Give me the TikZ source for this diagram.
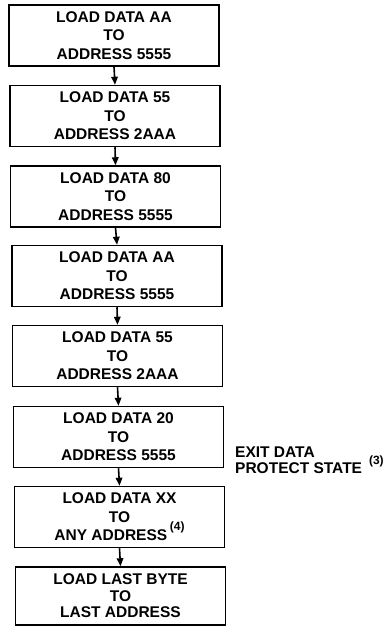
\documentclass[tikz,border=0pt]{standalone}
\usepackage{fontspec}
\setmainfont{Liberation Sans}
\usetikzlibrary{arrows.meta}
\begin{document}
\begin{tikzpicture}[x=1pt,y=-1pt,
  stepbox/.style={draw, line width=1.5pt, minimum width=210pt, minimum height=61pt,
    inner sep=0pt, align=center, font=\fontsize{15.5}{18.6}\selectfont\bfseries},
  flow/.style={line width=1.6pt, -{Triangle[length=8pt,width=6.5pt]}},
  note/.style={align=left, anchor=north west, inner sep=0pt,
    font=\fontsize{15.5}{15.7}\selectfont\bfseries}]
\useasboundingbox (0,0) rectangle (391,626);
\node[stepbox] (b1) at (114,35.5)  {LOAD DATA AA\\TO\\ADDRESS 5555};
\node[stepbox] (b2) at (115,116)   {LOAD DATA 55\\TO\\ADDRESS 2AAA};
\node[stepbox] (b3) at (115.5,196.5) {LOAD DATA 80\\TO\\ADDRESS 5555};
\node[stepbox] (b4) at (117,276)   {LOAD DATA AA\\TO\\ADDRESS 5555};
\node[stepbox] (b5) at (117.5,356) {LOAD DATA 55\\TO\\ADDRESS 2AAA};
\node[stepbox] (b6) at (118.5,437) {LOAD DATA 20\\TO\\ADDRESS 5555};
\node[stepbox] (b7) at (119.5,517) {LOAD DATA XX\\TO\\ANY ADDRESS\,\smash{\raisebox{10pt}{\fontsize{12}{12}\selectfont (4)}}};
\node[stepbox, minimum height=58pt, font=\fontsize{15.5}{16.5}\selectfont\bfseries] (b8) at (120.5,596) {LOAD LAST BYTE\\TO\\LAST ADDRESS};
\node[note] (exit) at (235,447) {EXIT DATA\\PROTECT STATE\hspace{7pt}\smash{\raisebox{9pt}{\fontsize{12}{12}\selectfont (3)}}};
\foreach \a/\b in {b1/b2,b2/b3,b3/b4,b4/b5,b5/b6,b6/b7,b7/b8}
  \draw[flow] (\a.south) -- (\b.north);
\end{tikzpicture}
\end{document}
